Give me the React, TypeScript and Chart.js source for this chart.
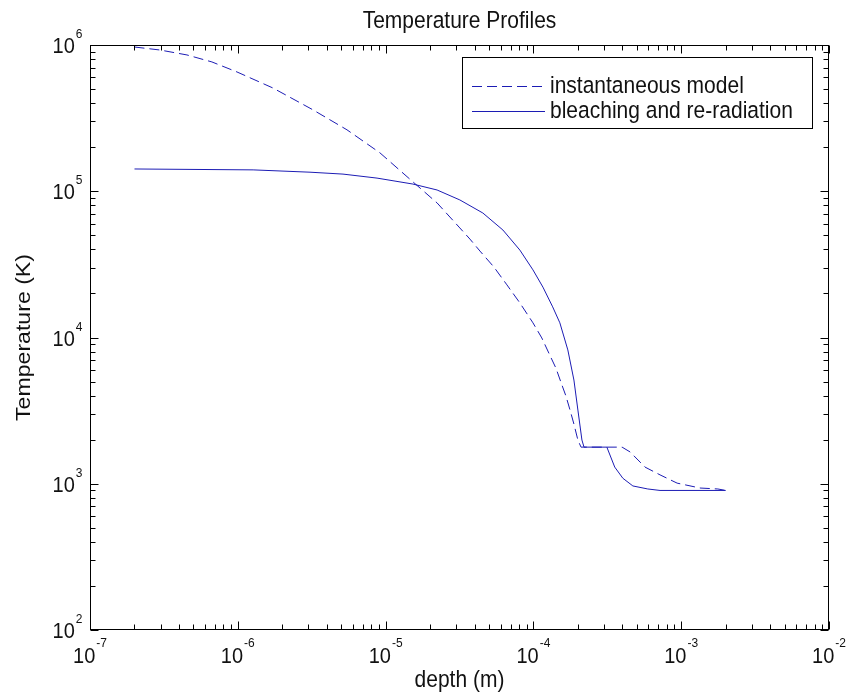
import React, { useEffect, useRef } from 'react';
import { Chart, registerables } from 'chart.js';

Chart.register(...registerables);

// ---- data ----
const instDepth = [2e-7, 2.98e-7, 4.53e-7, 6.68e-7, 9.88e-7, 1.73e-6, 3.23e-6, 5.48e-6, 9.16e-6, 1.53e-5, 2.23e-5, 3.18e-5, 3.72e-5, 4.35e-5, 5.41e-5, 6.62e-5, 8.11e-5, 9.93e-5, 1.14e-4, 1.29e-4, 1.42e-4, 1.56e-4, 1.66e-4, 1.77e-4, 1.88e-4, 2.0e-4, 2.1e-4, 3.98e-4, 4.51e-4, 5.69e-4, 7.19e-4, 9.38e-4, 1.34e-3, 1.77e-3, 2e-3];
const instTemp = [9.69e5, 9.24e5, 8.55e5, 7.66e5, 6.54e5, 5.08e5, 3.6e5, 2.63e5, 1.83e5, 1.16e5, 8.32e4, 5.61e4, 4.71e4, 3.9e4, 3.03e4, 2.29e4, 1.72e4, 1.26e4, 9.93e3, 7.59e3, 6.18e3, 4.73e3, 3.98e3, 3.19e3, 2.56e3, 1.99e3, 1780, 1780, 1650, 1300, 1150, 1010, 935, 921, 900];

const bleachDepth = [2e-7, 1.27e-6, 3.08e-6, 5.15e-6, 8.75e-6, 1.53e-5, 2.23e-5, 3.18e-5, 4.55e-5, 6.22e-5, 8.1e-5, 9.93e-5, 1.16e-4, 1.35e-4, 1.51e-4, 1.71e-4, 1.88e-4, 2.0e-4, 2.13e-4, 2.2e-4, 3.14e-4, 3.55e-4, 4.03e-4, 4.71e-4, 5.94e-4, 7.19e-4, 2e-3];
const bleachTemp = [1.42e5, 1.40e5, 1.35e5, 1.31e5, 1.23e5, 1.12e5, 1.02e5, 8.72e4, 7.1e4, 5.43e4, 3.96e4, 2.9e4, 2.21e4, 1.62e4, 1.26e4, 8.22e3, 5.12e3, 3.19e3, 1.99e3, 1780, 1780, 1300, 1090, 966, 921, 900, 900];

const seriesLabels = ['instantaneous model', 'bleaching and re-radiation'];
const xTickExps = [-7, -6, -5, -4, -3, -2];
const yTickExps = [2, 3, 4, 5, 6];
const chartTitle = 'Temperature Profiles';
const xTitle = 'depth (m)';
const yTitle = 'Temperature (K)';

const FONT = '"Liberation Sans", Arial, Helvetica, sans-serif';
const LINE_COLOR = '#1c1cb4';
const TEXT_COLOR = '#111';
const DASH = [10, 5];
const SY = 1.1; // text is a little taller than wide in the original

function drawText(ctx: any, text: string, x: number, y: number, size: number, align: CanvasTextAlign) {
  ctx.save();
  ctx.font = `${size}px ${FONT}`;
  ctx.textAlign = align;
  ctx.textBaseline = 'alphabetic';
  ctx.translate(x, y);
  ctx.scale(1, SY);
  ctx.fillText(text, 0, 0);
  ctx.restore();
}

function textWidth(ctx: any, text: string, size: number) {
  ctx.save();
  ctx.font = `${size}px ${FONT}`;
  const w = ctx.measureText(text).width;
  ctx.restore();
  return w;
}

const matlabPlugin = {
  id: 'matlabDecor',
  afterDatasetsDraw(chart: any) {
    const { ctx, chartArea: a, scales } = chart;
    const xs = scales.x;
    const ys = scales.y;
    const L = Math.round(a.left) + 0.5;
    const R = Math.round(a.right) - 0.5;
    const T = Math.round(a.top) + 0.5;
    const B = Math.round(a.bottom) - 0.5;
    ctx.save();
    ctx.strokeStyle = '#000';
    ctx.lineWidth = 1;
    ctx.setLineDash([]);
    ctx.strokeRect(L, T, R - L, B - T);

    // ticks
    ctx.beginPath();
    const xMinE = xTickExps[0], xMaxE = xTickExps[xTickExps.length - 1];
    for (let e = xMinE; e <= xMaxE; e++) {
      for (let k = 1; k <= 9; k++) {
        if (e === xMaxE && k > 1) break;
        const v = k * Math.pow(10, e);
        const p = Math.round(xs.getPixelForValue(v)) + 0.5;
        const len = k === 1 ? 8 : 5;
        ctx.moveTo(p, B); ctx.lineTo(p, B - len);
        ctx.moveTo(p, T); ctx.lineTo(p, T + len);
      }
    }
    const yMinE = yTickExps[0], yMaxE = yTickExps[yTickExps.length - 1];
    for (let e = yMinE; e <= yMaxE; e++) {
      for (let k = 1; k <= 9; k++) {
        if (e === yMaxE && k > 1) break;
        const v = k * Math.pow(10, e);
        const p = Math.round(ys.getPixelForValue(v)) + 0.5;
        const len = k === 1 ? 8 : 5;
        ctx.moveTo(L, p); ctx.lineTo(L + len, p);
        ctx.moveTo(R, p); ctx.lineTo(R - len, p);
      }
    }
    ctx.stroke();

    // tick labels
    ctx.fillStyle = TEXT_COLOR;
    const BASE = 20;
    const SUP = 12;
    for (const e of xTickExps) {
      const p = xs.getPixelForValue(Math.pow(10, e));
      const s = String(e);
      const w1 = textWidth(ctx, '10', BASE);
      const w2 = textWidth(ctx, s, SUP);
      const start = p - (w1 + w2 + 1) / 2;
      drawText(ctx, '10', start, B + 33, BASE, 'left');
      drawText(ctx, s, start + w1 + 1, B + 17, SUP, 'left');
    }
    for (const e of yTickExps) {
      const p = ys.getPixelForValue(Math.pow(10, e));
      const s = String(e);
      const w1 = textWidth(ctx, '10', BASE);
      const w2 = textWidth(ctx, s, SUP);
      const end = L - 8;
      drawText(ctx, '10', end - w2 - w1 - 1, p + 8, BASE, 'left');
      drawText(ctx, s, end - w2, p - 7, SUP, 'left');
    }

    // titles
    const cx = (a.left + a.right) / 2;
    drawText(ctx, chartTitle, cx, 28, 21, 'center');
    drawText(ctx, xTitle, cx, 687, 21, 'center');
    ctx.save();
    ctx.font = `21px ${FONT}`;
    ctx.textAlign = 'center';
    ctx.textBaseline = 'alphabetic';
    ctx.translate(30, (a.top + a.bottom) / 2);
    ctx.rotate(-Math.PI / 2);
    ctx.scale(SY, 1);
    ctx.fillText(yTitle, 0, 0);
    ctx.restore();

    // legend
    const bx = 462.5, by = 57.5, bw = 350, bh = 71;
    ctx.fillStyle = '#fff';
    ctx.fillRect(bx, by, bw, bh);
    ctx.strokeStyle = '#000';
    ctx.strokeRect(bx, by, bw, bh);
    const rows = [86, 111];
    chart.data.datasets.forEach((ds: any, i: number) => {
      const y = rows[i] + 0.5;
      ctx.strokeStyle = ds.borderColor;
      ctx.lineWidth = 1;
      ctx.setLineDash(ds.borderDash || []);
      ctx.beginPath();
      ctx.moveTo(472, y);
      ctx.lineTo(545, y);
      ctx.stroke();
      ctx.setLineDash([]);
      ctx.fillStyle = TEXT_COLOR;
      drawText(ctx, ds.label, 550, rows[i] + 7, 21, 'left');
    });
    ctx.restore();
  },
};

export default function App() {
  const ref = useRef<HTMLCanvasElement | null>(null);
  useEffect(() => {
    if (!ref.current) return;
    const chart = new Chart(ref.current, {
      type: 'line',
      data: {
        datasets: [
          {
            label: seriesLabels[0],
            data: instDepth.map((x, i) => ({ x, y: instTemp[i] })),
            borderColor: LINE_COLOR,
            borderWidth: 1,
            borderDash: DASH,
            pointRadius: 0,
            fill: false,
            tension: 0,
          },
          {
            label: seriesLabels[1],
            data: bleachDepth.map((x, i) => ({ x, y: bleachTemp[i] })),
            borderColor: LINE_COLOR,
            borderWidth: 1,
            pointRadius: 0,
            fill: false,
            tension: 0,
          },
        ],
      },
      options: {
        animation: false,
        responsive: false,
        devicePixelRatio: 1,
        layout: { padding: { top: 45, right: 18, left: 0, bottom: 0 } },
        plugins: {
          legend: { display: false },
          title: { display: false },
          tooltip: { enabled: false },
        },
        scales: {
          x: {
            type: 'logarithmic',
            min: 1e-7,
            max: 1e-2,
            ticks: { display: false },
            grid: { display: false },
            border: { display: false },
            afterFit: (s: any) => { s.height = 70; },
          },
          y: {
            type: 'logarithmic',
            min: 1e2,
            max: 1e6,
            ticks: { display: false },
            grid: { display: false },
            border: { display: false },
            afterFit: (s: any) => { s.width = 90; },
          },
        },
      },
      plugins: [matlabPlugin],
    } as any);
    return () => chart.destroy();
  }, []);
  return (
    <div style={{ position: 'absolute', left: 0, top: 0, width: 847, height: 700, background: '#fff' }}>
      <canvas ref={ref} width={847} height={700} style={{ display: 'block' }} />
    </div>
  );
}
